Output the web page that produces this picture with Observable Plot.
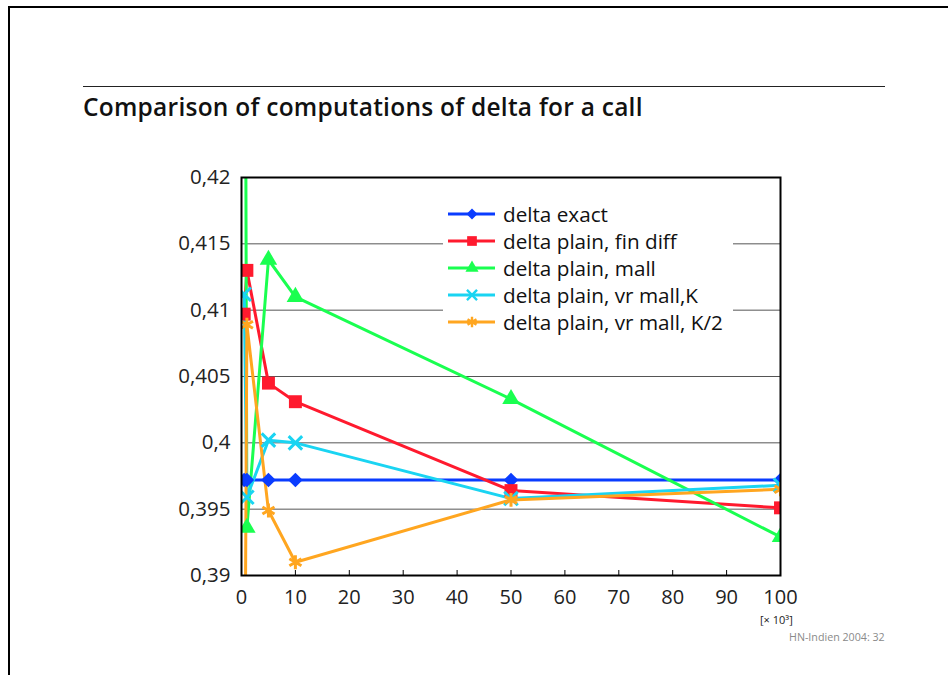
<!DOCTYPE html>
<html>
<head>
<meta charset="utf-8">
<script src="https://cdn.jsdelivr.net/npm/d3@7"></script>
<script src="https://cdn.jsdelivr.net/npm/@observablehq/plot@0.6"></script>
<style>
  html, body { margin: 0; padding: 0; background: #fff; }
  #wrap { position: relative; width: 948px; height: 675px; overflow: hidden; font-family: "Open Sans", sans-serif; }
  #wrap svg { position: absolute; left: 0; top: 0; }
  .abs { position: absolute; }
  #legend { position: absolute; left: 443px; top: 200px; width: 290px; height: 136px; background: #fff; }
  .lrow { position: absolute; left: 0; height: 27px; display: flex; align-items: center; }
  .lrow span { font-size: 20.7px; color: #111; margin-left: 7px; white-space: nowrap; }
</style>
</head>
<body>
<div id="wrap">
  <div class="abs" style="left:8px;top:6px;width:940px;height:2px;background:#000"></div>
  <div class="abs" style="left:8px;top:6px;width:2px;height:669px;background:#000"></div>
  <div class="abs" style="left:83px;top:86px;width:802px;height:1px;background:#222"></div>
  <div class="abs" id="title" style="left:83px;top:90px;font-size:24.5px;font-weight:600;color:#111;white-space:nowrap;letter-spacing:0.25px">Comparison of computations of delta for a call</div>
  <div class="abs" style="left:760px;top:612px;font-size:11px;color:#222">[× 10³]</div>
  <div class="abs" style="left:789px;top:630px;font-size:10.7px;color:#8a8a8a">HN-Indien 2004: 32</div>
  <div id="legend"></div>
</div>
<script>
// x values in thousands of simulations
const xValues = [0.5, 1, 5, 10, 50, 100];
const seriesNames = [
  "delta exact",
  "delta plain, fin diff",
  "delta plain, mall",
  "delta plain, vr mall,K",
  "delta plain, vr mall, K/2"
];
const deltaExact   = [0.3972, 0.3972, 0.3972, 0.3972, 0.3972, 0.3972];
const finDiff      = [0.4097, 0.4130, 0.4045, 0.4031, 0.3964, 0.3951];
const mall         = [0.4650, 0.3936, 0.4138, 0.4110, 0.4033, 0.3929];
const vrMallK      = [0.4112, 0.3959, 0.4002, 0.4000, 0.3958, 0.3968];
const vrMallK2     = [0.3700, 0.4089, 0.3949, 0.3910, 0.3957, 0.3965];
const xTicks = [0, 10, 20, 30, 40, 50, 60, 70, 80, 90, 100];
const yTicks = [0.39, 0.395, 0.4, 0.405, 0.41, 0.415, 0.42];

const colors  = ["#0a3cff", "#ff1a2e", "#1aff50", "#1ad4f2", "#ffa620"];
const symbols = ["diamond2", "square", "triangle", "times", "asterisk"];
const radii   = [6.6, 7.3, 6.5, 6.2, 6.6];
const filled  = [true, true, true, false, false];

const allValues = [deltaExact, finDiff, mall, vrMallK, vrMallK2];
const data = [];
allValues.forEach((vals, s) => {
  vals.forEach((v, i) => data.push({series: seriesNames[s], s, x: xValues[i], y: v}));
});

const marks = [
  Plot.gridY(yTicks, {stroke: "#555", strokeOpacity: 1, strokeWidth: 1}),
  Plot.axisY(yTicks, {tickSize: 0, tickPadding: 11, tickFormat: d => String(d).replace(".", ","), fontSize: 20.5, fill: "#222", label: null}),
  Plot.axisX(xTicks, {tickSize: 0, tickPadding: 14, fontSize: 20, fill: "#222", label: null}),
  Plot.axisX(xTicks, {tickSize: -5, tickFormat: () => "", stroke: "#000", label: null})
];
seriesNames.forEach((name, s) => {
  const d = data.filter(r => r.s === s);
  marks.push(Plot.line(d, {x: "x", y: "y", stroke: colors[s], strokeWidth: 3, clip: true}));
});
seriesNames.forEach((name, s) => {
  const d = data.filter(r => r.s === s);
  marks.push(Plot.dot(d, {
    x: "x", y: "y", symbol: () => symbols[s], r: radii[s],
    fill: filled[s] ? colors[s] : "none",
    stroke: colors[s], strokeWidth: filled[s] ? 0 : 3, clip: true
  }));
});
marks.push(Plot.frame({stroke: "#000", strokeWidth: 2}));

const chart = Plot.plot({
  width: 948,
  height: 675,
  marginLeft: 241,
  marginRight: 168,
  marginTop: 177,
  marginBottom: 100,
  style: {fontFamily: "Open Sans, sans-serif", fontSize: "20px", background: "transparent", overflow: "visible"},
  x: {domain: [0, 100]},
  y: {domain: [0.39, 0.42]},
  symbol: {type: "identity"},
  marks
});
document.getElementById("wrap").insertBefore(chart, document.getElementById("wrap").firstChild);

// legend
const legend = document.getElementById("legend");
seriesNames.forEach((name, s) => {
  const row = document.createElement("div");
  row.className = "lrow";
  row.style.top = (0 + s * 27) + "px";
  const ns = "http://www.w3.org/2000/svg";
  const svg = document.createElementNS(ns, "svg");
  svg.setAttribute("width", 53);
  svg.setAttribute("height", 20);
  svg.style.position = "static";
  const line = document.createElementNS(ns, "line");
  line.setAttribute("x1", 5); line.setAttribute("x2", 52);
  line.setAttribute("y1", 10); line.setAttribute("y2", 10);
  line.setAttribute("stroke", colors[s]); line.setAttribute("stroke-width", 3);
  svg.appendChild(line);
  const symMap = {diamond2: d3.symbolDiamond2, square: d3.symbolSquare, triangle: d3.symbolTriangle, times: d3.symbolTimes, asterisk: d3.symbolAsterisk};
  const r = radii[s] * 0.75;
  const p = document.createElementNS(ns, "path");
  p.setAttribute("d", d3.symbol(symMap[symbols[s]], r * r * Math.PI)());
  p.setAttribute("transform", "translate(29,10)");
  p.setAttribute("fill", filled[s] ? colors[s] : "none");
  p.setAttribute("stroke", colors[s]);
  p.setAttribute("stroke-width", filled[s] ? 0 : 2.4);
  svg.appendChild(p);
  row.appendChild(svg);
  const t = document.createElement("span");
  t.textContent = name;
  row.appendChild(t);
  legend.appendChild(row);
});
</script>
</body>
</html>
